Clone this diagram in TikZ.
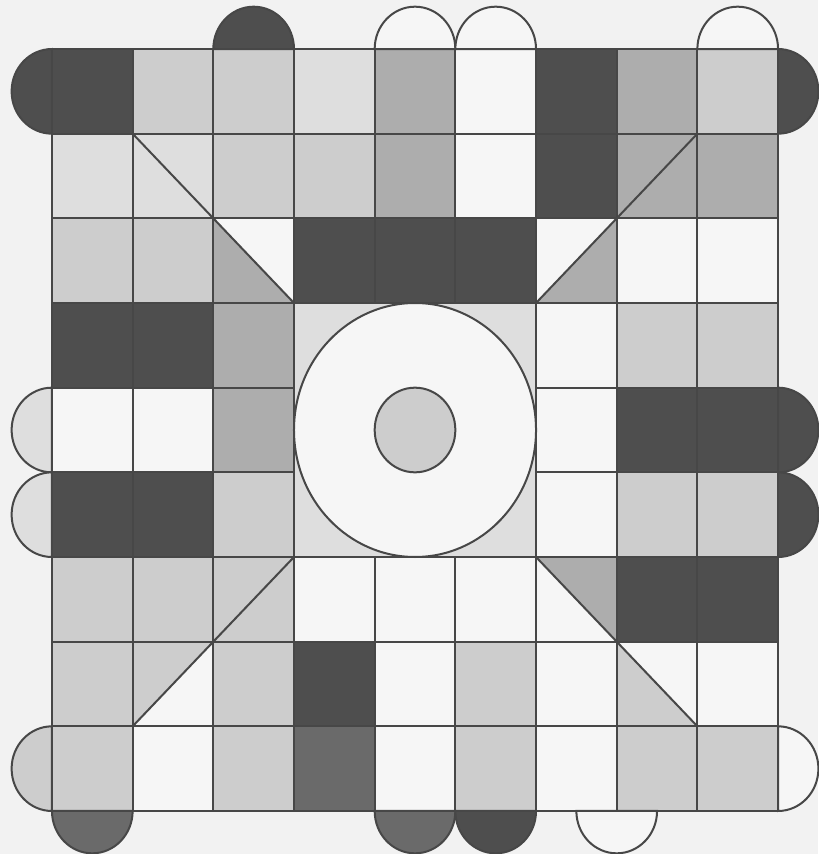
\documentclass[tikz,border=0pt]{standalone}
\usepackage{tikz}
\definecolor{bg}{HTML}{F2F2F2}
\definecolor{ln}{HTML}{474747}
\definecolor{dk}{HTML}{4E4E4E}
\definecolor{dm}{HTML}{6A6A6A}
\definecolor{md}{HTML}{ADADAD}
\definecolor{lt}{HTML}{CDCDCD}
\definecolor{vl}{HTML}{DEDEDE}
\definecolor{wh}{HTML}{F6F6F6}

\begin{document}
\begin{tikzpicture}[x=0.85cm,y=0.892cm,
  rule/.style={draw=ln,line width=0.6pt},
  halfdisc/.style={draw=ln,line width=0.6pt}]
\fill[bg] (-0.644,-0.508) rectangle (9.496,9.579);
\useasboundingbox (-0.644,-0.508) rectangle (9.496,9.579);
% cells, top row first
\foreach \row [count=\r] in {
  {dk,lt,lt,vl,md,wh,dk,md,lt},
  {vl,vl,lt,lt,md,wh,dk,md,md},
  {lt,lt,wh,dk,dk,dk,wh,wh,wh},
  {dk,dk,md,vl,vl,vl,wh,lt,lt},
  {wh,wh,md,vl,vl,vl,wh,dk,dk},
  {dk,dk,lt,vl,vl,vl,wh,lt,lt},
  {lt,lt,lt,wh,wh,wh,wh,dk,dk},
  {lt,wh,lt,dk,wh,lt,wh,wh,wh},
  {lt,wh,lt,dm,wh,lt,wh,lt,lt}}
  \foreach \col [count=\c] in \row
    \fill[\col] (\c-1,9-\r) rectangle ++(1,1);
% half cells
\fill[md] (2,7) -- (3,6) -- (2,6) -- cycle;
\fill[md] (6,6) -- (7,6) -- (7,7) -- cycle;
\fill[md] (6,3) -- (7,3) -- (7,2) -- cycle;
\fill[lt] (1,1) -- (1,2) -- (2,2) -- cycle;
\fill[lt] (7,2) -- (8,1) -- (7,1) -- cycle;
% grid
\foreach \i in {0,1,2,3,6,7,8,9} {
  \path[rule] (0,\i) -- (9,\i);
  \path[rule] (\i,0) -- (\i,9);
}
\foreach \i in {4,5} {
  \path[rule] (0,\i) -- (3,\i) (6,\i) -- (9,\i);
  \path[rule] (\i,0) -- (\i,3) (\i,6) -- (\i,9);
}
\path[rule] (1,8) -- (3,6) (6,6) -- (8,8) (1,1) -- (3,3) (6,3) -- (8,1);
% centre
\path[rule,fill=wh] (4.5,4.5) circle[radius=1.5];
\path[rule,fill=lt] (4.5,4.5) circle[radius=0.5];
% half discs round the edge
\foreach \c/\f in {3/dk,5/wh,6/wh,9/wh}
  \path[halfdisc,fill=\f] (\c-1,9) arc[start angle=180,end angle=0,radius=0.5] -- cycle;
\foreach \x/\f in {0.5/dm,4.5/dm,5.5/dk,7/wh}
  \path[halfdisc,fill=\f] (\x-0.5,0) arc[start angle=180,end angle=360,radius=0.5] -- cycle;
\foreach \r/\f in {1/dk,5/vl,6/vl,9/lt}
  \path[halfdisc,fill=\f] (0,10-\r) arc[start angle=90,end angle=270,radius=0.5] -- cycle;
\foreach \r/\f in {1/dk,5/dk,6/dk,9/wh}
  \path[halfdisc,fill=\f] (9,9-\r) arc[start angle=-90,end angle=90,radius=0.5] -- cycle;
\end{tikzpicture}
\end{document}
